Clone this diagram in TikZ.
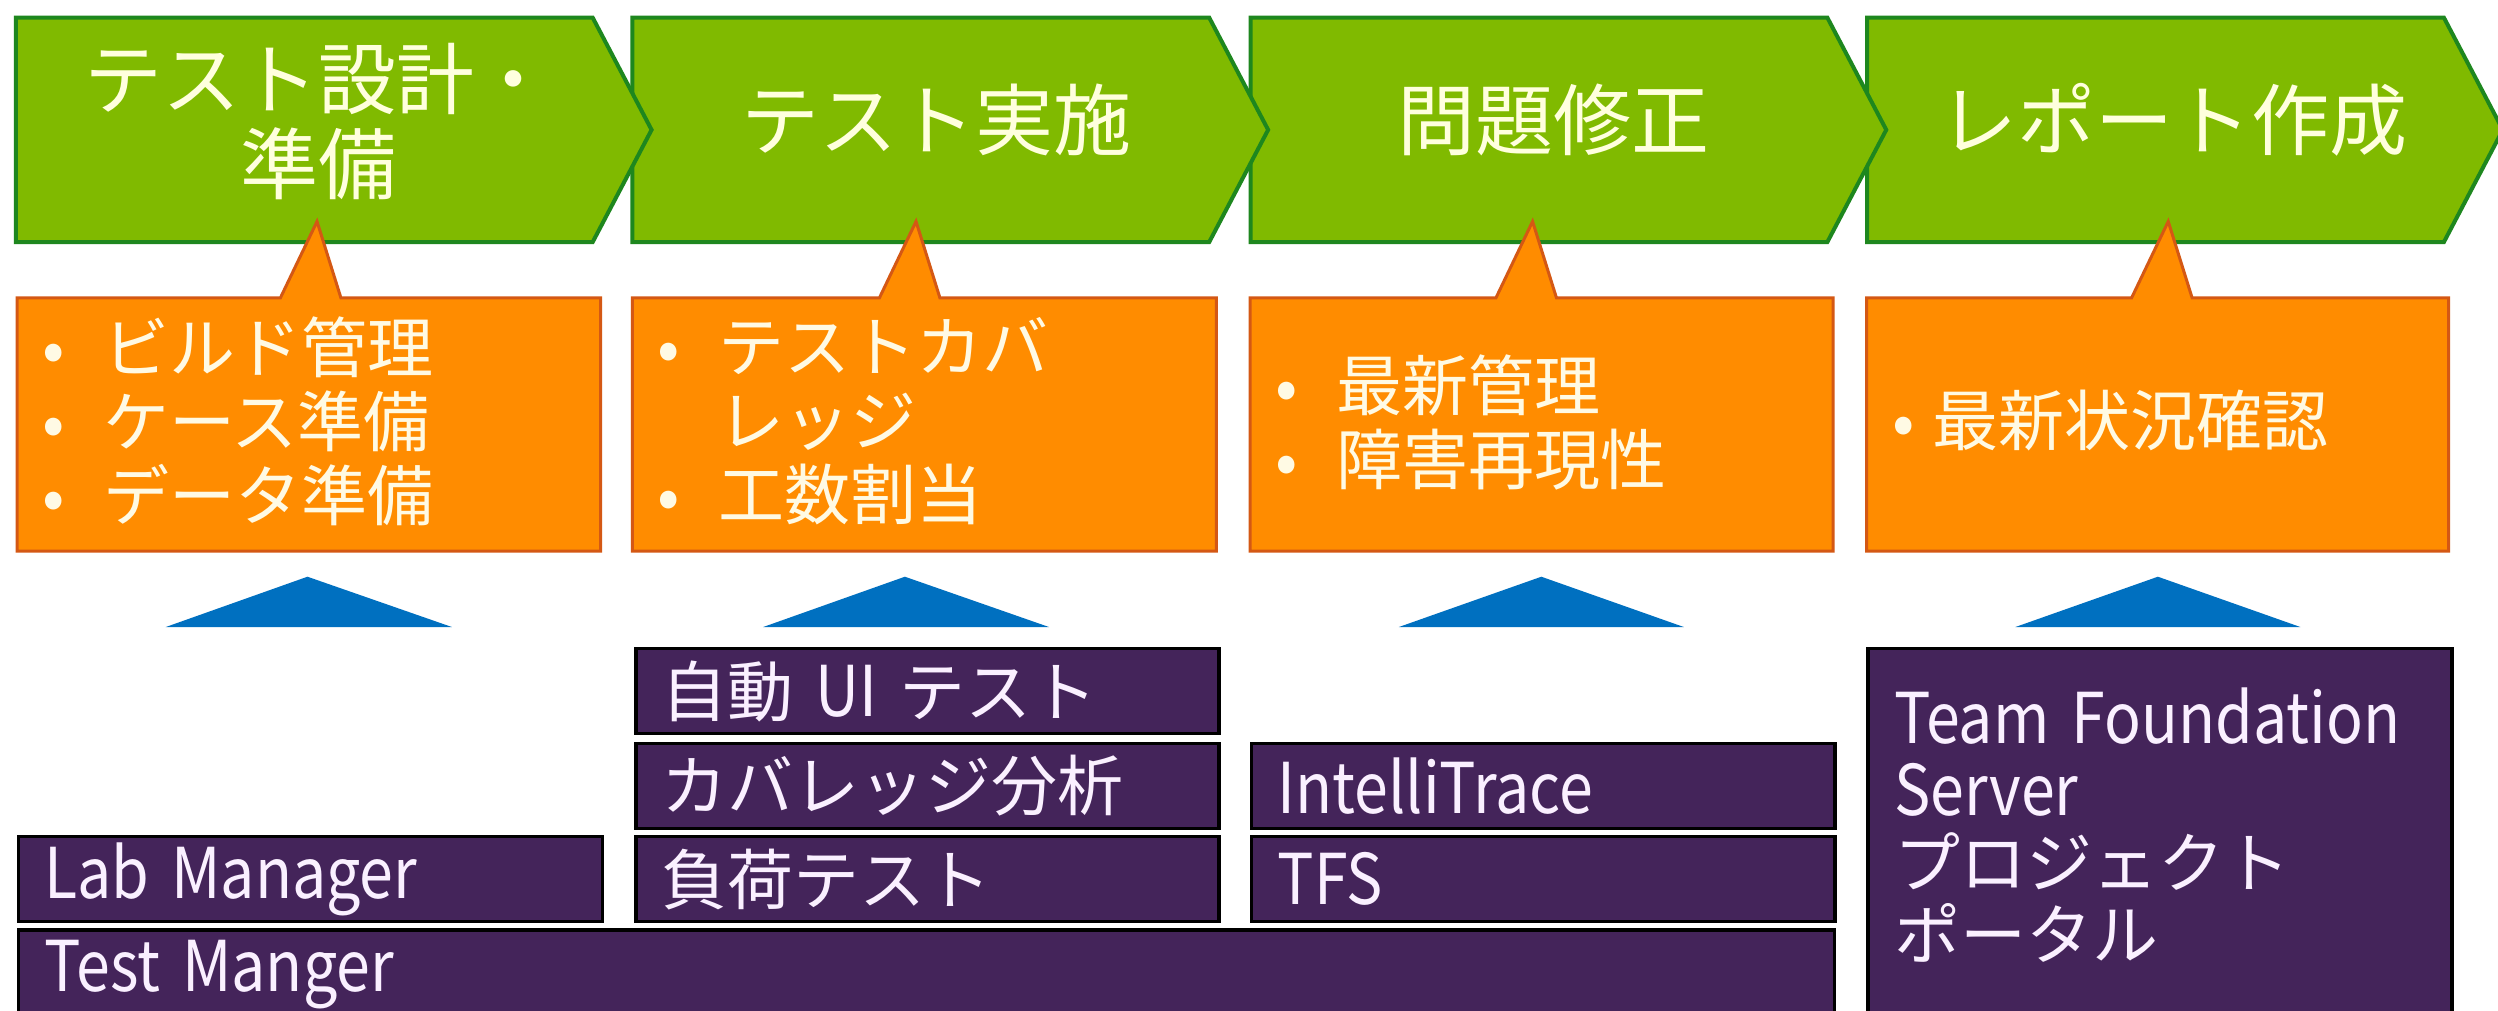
\documentclass[tikz,border=0pt]{standalone}
\usepackage{fontspec}
\newfontfamily\jp{Noto Sans CJK JP}
\newfontfamily\latn{Noto Sans CJK JP}[FakeStretch=0.87]
\definecolor{greenF}{RGB}{128,186,0}
\definecolor{greenB}{RGB}{30,135,30}
\definecolor{orangeF}{RGB}{255,140,0}
\definecolor{orangeB}{RGB}{212,88,20}
\definecolor{blueF}{RGB}{0,112,192}
\definecolor{purpleF}{RGB}{68,36,90}
\definecolor{titleT}{RGB}{255,255,222}
\definecolor{orangeT}{RGB}{255,250,228}
\definecolor{purpleT}{RGB}{250,240,255}
\newcommand\obul{\makebox[37pt][c]{•}\hspace{31pt}}
\newcommand\obulnarrow{\makebox[37pt][c]{•}\hspace{10.5pt}}
\newcommand\lt[1]{{\latn\fontsize{70}{72}\selectfont #1}}
\begin{document}
\begin{tikzpicture}[x=1.593pt,y=-1.593pt,
  chev/.style={fill=greenF,draw=greenB,line width=4pt,line join=miter},
  ttl/.style={font=\jp\fontsize{78}{85}\selectfont,text=titleT,align=center,inner sep=0pt},
  callout/.style={fill=orangeF,draw=orangeB,line width=3pt,line join=miter},
  olist/.style={font=\jp\fontsize{66}{74}\selectfont,text=orangeT,align=left,inner sep=0pt,anchor=west},
  uptri/.style={fill=blueF},
  pbox/.style={draw=black,line width=3.5pt,fill=purpleF,text=purpleT,
    font=\jp\fontsize{66}{72}\selectfont,inner xsep=26pt,inner ysep=0pt,
    align=left,anchor=north west}]
\useasboundingbox[fill=white] (0,0) rectangle (1568,634);

% phase chevrons (drawn right to left so each tip overlaps the next)
\path[chev] (1172,11) -- ++(362,0) -- ++(37,70.5) -- ++(-37,70.5) -- ++(-362,0) -- cycle;
\path[chev] (785,11) -- ++(362,0) -- ++(37,70.5) -- ++(-37,70.5) -- ++(-362,0) -- cycle;
\path[chev] (397,11) -- ++(362,0) -- ++(37,70.5) -- ++(-37,70.5) -- ++(-362,0) -- cycle;
\path[chev] (10,11) -- ++(362,0) -- ++(37,70.5) -- ++(-37,70.5) -- ++(-362,0) -- cycle;

\node[ttl] (t1) at (200,76) {テスト設計・\\準備};
\node[ttl] (t2) at (588,75) {テスト実施};
\node[ttl] (t3) at (975,75) {問題修正};
\node[ttl] (t4) at (1364,75) {レポート作成};

% orange callouts
\path[callout] (10.7,187) -- (176,187) -- (199,139) -- (214,187) -- (377,187) -- (377,346) -- (10.7,346) -- cycle;
\path[callout] (397,187) -- (552,187) -- (575,139) -- (590,187) -- (763.5,187) -- (763.5,346) -- (397,346) -- cycle;
\path[callout] (784.7,187) -- (939,187) -- (962,139) -- (977,187) -- (1150.6,187) -- (1150.6,346) -- (784.7,346) -- cycle;
\path[callout] (1171.7,187) -- (1338,187) -- (1361,139) -- (1376,187) -- (1537,187) -- (1537,346) -- (1171.7,346) -- cycle;

\node[olist] (o1) at (22,264.5) {\obul ビルド管理\\\obul ケース準備\\\obul データ準備};
\node[olist] (o2) at (408.3,264.5) {\obul テストカバ\\\hspace*{68pt}レッジ\\\obul 工数割当};
\node[olist] (o3) at (796,265.2) {\obul 最新管理\\\obul 障害再現性};
\node[olist] (o4) at (1183,263.7) {\obulnarrow 最新状況確認};

% blue triangles
\path[uptri] (104,393.6) -- (193,362) -- (283.7,393.6) -- cycle;
\path[uptri] (479,393.6) -- (568,362) -- (658.5,393.6) -- cycle;
\path[uptri] (878,393.6) -- (967.5,362) -- (1057,393.6) -- cycle;
\path[uptri] (1265,393.6) -- (1354.5,362) -- (1444,393.6) -- cycle;

% tool boxes
\node[pbox,minimum width=583pt,minimum height=85pt,text width=531pt] (autoui) at (398,406) {自動 \lt{UI} テスト};
\node[pbox,minimum width=583pt,minimum height=85pt,text width=531pt] (coverage) at (398,465.6) {カバレッジ分析};
\node[pbox,minimum width=583pt,minimum height=85pt,text width=531pt] (loadtest) at (398,524) {負荷テスト};
\node[pbox,minimum width=584pt,minimum height=85pt,text width=532pt] (labmgr) at (10.4,524) {\lt{Lab Manager}};
\node[pbox,minimum width=1816pt,minimum height=89pt,text width=1764pt] (testmgr) at (10.4,582.6) {\lt{Test Manger}};
\node[pbox,minimum width=583pt,minimum height=85pt,text width=531pt] (intelli) at (784.6,465.6) {\lt{IntelliTrace}};
\node[pbox,minimum width=583pt,minimum height=85pt,text width=531pt] (tfs) at (784.6,524) {\lt{TFS}};
\node[pbox,minimum width=584pt,minimum height=373pt,text width=532pt] (portal) at (1171.5,406) {\lt{Team Foundation}\\\lt{Server}\\プロジェクト\\ポータル\\[-50pt]\mbox{}};
\end{tikzpicture}
\end{document}
